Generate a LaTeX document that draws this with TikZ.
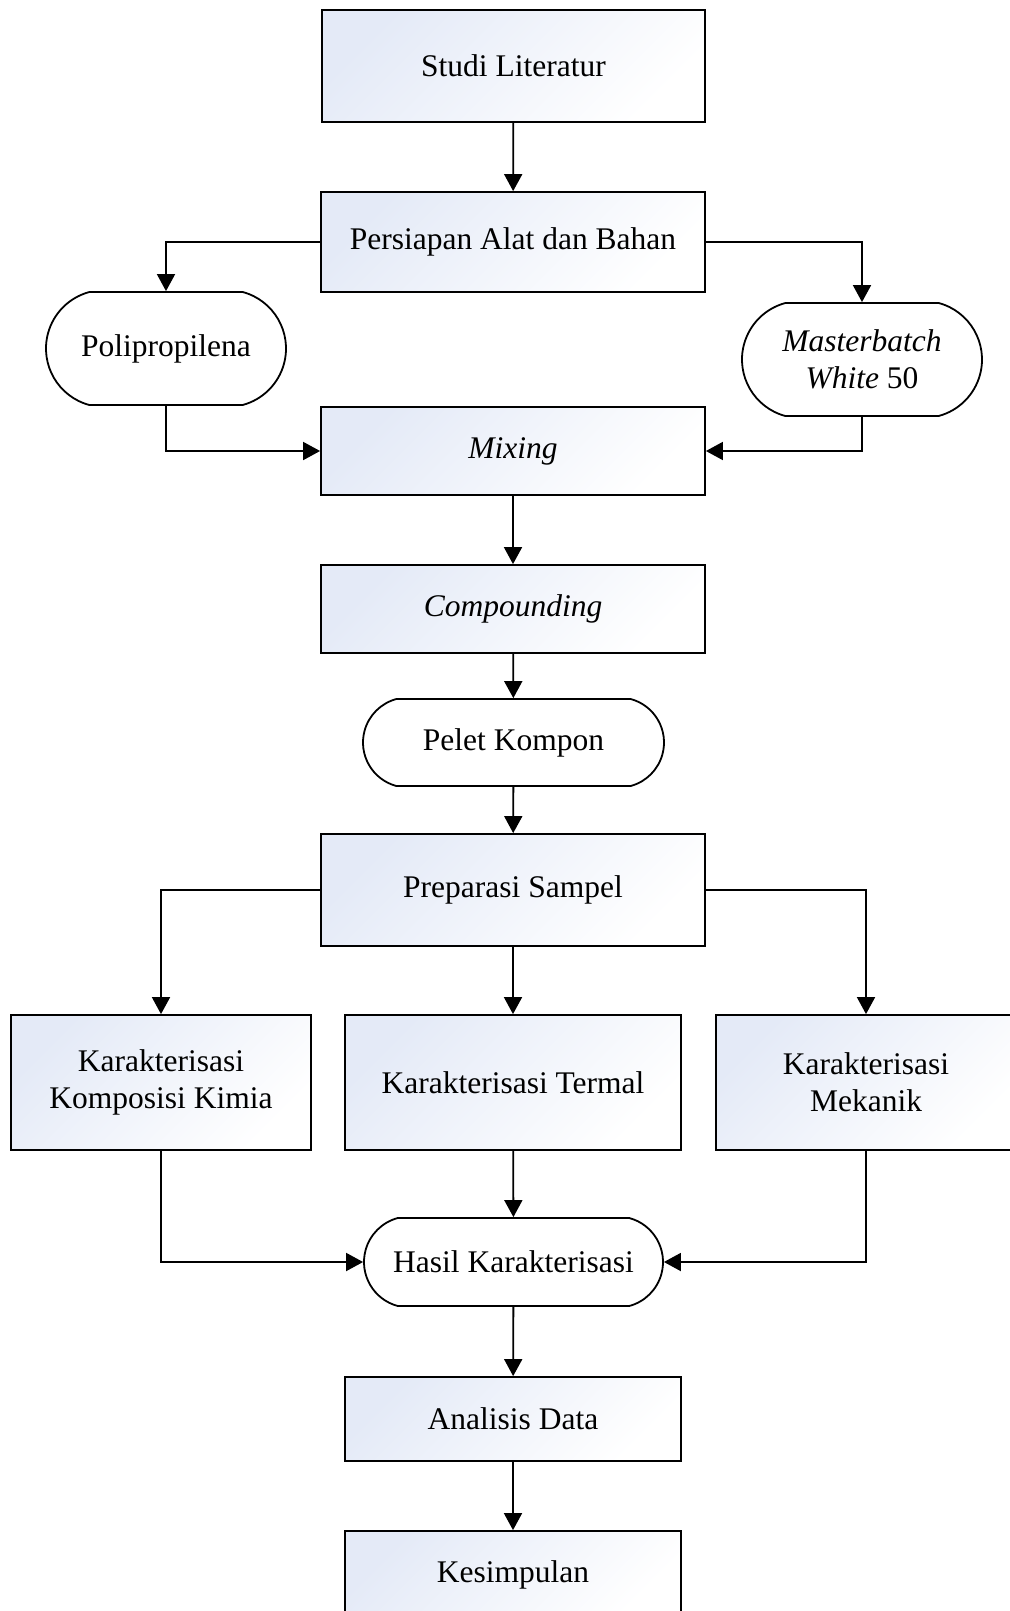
\documentclass[tikz,border=0pt]{standalone}
\usepackage{fontspec}
\setmainfont{Liberation Serif}
\usetikzlibrary{shapes.misc,arrows.meta}
\definecolor{boxtint}{RGB}{228,234,247}
\tikzset{
  base/.style={draw=black, line width=1.8pt, inner sep=0pt, align=center,
    font=\fontsize{31.5}{37}\selectfont},
  procbox/.style={base, rectangle, top color=boxtint, middle color=white, bottom color=white, shading angle=45},
  termbox/.style={base, rounded rectangle, rounded rectangle arc length=150, fill=white},
  conn/.style={line width=1.8pt, -{Triangle[length=17pt,width=18pt]}}
}
\begin{document}
\begin{tikzpicture}[x=1pt,y=-1pt]
\useasboundingbox (0,0) rectangle (1009,1611);
\node[procbox, minimum width=383pt, minimum height=112pt] (studi) at (513.5,66) {Studi Literatur};
\node[procbox, minimum width=384pt, minimum height=100pt] (persiapan) at (513,242) {Persiapan Alat dan Bahan};
\node[termbox, minimum width=240pt, minimum height=113pt] (polip) at (166,348.5) {Polipropilena};
\node[termbox, minimum width=240pt, minimum height=113pt] (master) at (862,359.5) {\textit{Masterbatch}\\\textit{White} 50};
\node[procbox, minimum width=384pt, minimum height=88pt] (mixing) at (513,451) {\textit{Mixing}};
\node[procbox, minimum width=384pt, minimum height=88pt] (compounding) at (513,609) {\textit{Compounding}};
\node[termbox, minimum width=301pt, minimum height=87pt] (pelet) at (513.5,742.5) {Pelet Kompon};
\node[procbox, minimum width=384pt, minimum height=112pt] (preparasi) at (513,890) {Preparasi Sampel};
\node[procbox, minimum width=300pt, minimum height=135pt] (kimia) at (161,1082.5) {Karakterisasi\\Komposisi Kimia};
\node[procbox, minimum width=336pt, minimum height=135pt] (termal) at (513,1082.5) {Karakterisasi Termal};
\node[procbox, minimum width=300pt, minimum height=135pt] (mekanik) at (866,1082.5) {Karakterisasi\\Mekanik};
\node[termbox, minimum width=299pt, minimum height=88pt] (hasil) at (513.5,1262) {Hasil Karakterisasi};
\node[procbox, minimum width=336pt, minimum height=84pt] (analisis) at (513,1419) {Analisis Data};
\node[procbox, minimum width=336pt, minimum height=88pt] (kesimpulan) at (513,1575) {Kesimpulan};

\draw[conn] (studi) -- (persiapan);
\draw[conn] (persiapan.west) -| (polip.north);
\draw[conn] (persiapan.east) -| (master.north);
\draw[conn] (polip.south) |- (mixing.west);
\draw[conn] (master.south) |- (mixing.east);
\draw[conn] (mixing) -- (compounding);
\draw[conn] (compounding) -- (pelet);
\draw[conn] (pelet) -- (preparasi);
\draw[conn] (preparasi.west) -| (kimia.north);
\draw[conn] (preparasi) -- (termal);
\draw[conn] (preparasi.east) -| (mekanik.north);
\draw[conn] (kimia.south) |- (hasil.west);
\draw[conn] (termal) -- (hasil);
\draw[conn] (mekanik.south) |- (hasil.east);
\draw[conn] (hasil) -- (analisis);
\draw[conn] (analisis) -- (kesimpulan);
\end{tikzpicture}
\end{document}
